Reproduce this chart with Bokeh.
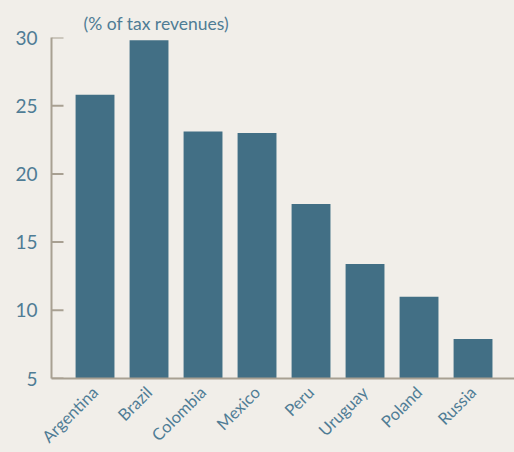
from bokeh.plotting import figure
from bokeh.models import Range1d, FixedTicker
from bokeh.embed import file_html
from bokeh.resources import INLINE
import math

countries = ["Argentina", "Brazil", "Colombia", "Mexico", "Peru", "Uruguay", "Poland", "Russia"]
values = [25.8, 29.8, 23.1, 23.0, 17.8, 13.4, 11.0, 7.9]
y_ticks = [5, 10, 15, 20, 25, 30]
title_text = "(% of tax revenues)"

BG = "#f1eee9"
BAR = "#426f85"
TXT = "#4f7c95"
AX = "#a8a092"
FONT = "Lato"

xs = list(range(len(countries)))
X0, X1 = -0.806, 7.768

p = figure(frame_width=463, frame_height=341, output_backend="svg", toolbar_location=None,
           x_range=Range1d(X0, X1), y_range=Range1d(5, 30),
           min_border_left=51, min_border_right=0, min_border_top=37, min_border_bottom=74)
p.background_fill_color = BG
p.border_fill_color = BG
p.outline_line_color = None
p.xgrid.visible = False
p.ygrid.visible = False

p.title.text = title_text
p.title.text_font = FONT
p.title.text_font_size = "17.5px"
p.title.text_font_style = "normal"
p.title.text_color = TXT
p.title.align = "left"
p.title.offset = 32
p.title.standoff = 7

p.vbar(x=xs, top=values, bottom=5, width=0.72, color=BAR, line_color=None)

# inward tick marks on the y axis
p.segment(x0=[X0] * len(y_ticks), y0=y_ticks, x1=[X0 + 12 / 54] * len(y_ticks), y1=y_ticks,
          line_color=AX, line_width=2)

p.xaxis.ticker = FixedTicker(ticks=xs)
p.xaxis.major_label_overrides = {i: c for i, c in enumerate(countries)}
p.xaxis.major_label_orientation = math.pi / 4
p.xaxis.major_tick_line_color = None
p.xaxis.minor_tick_line_color = None
p.xaxis.axis_line_color = AX
p.xaxis.axis_line_width = 2
p.xaxis.major_label_text_color = TXT
p.xaxis.major_label_text_font = FONT
p.xaxis.major_label_text_font_size = "16.5px"
p.xaxis.major_label_standoff = 5

p.yaxis.ticker = FixedTicker(ticks=y_ticks)
p.yaxis.major_tick_in = 0
p.yaxis.major_tick_out = 0
p.yaxis.major_tick_line_color = None
p.yaxis.minor_tick_line_color = None
p.yaxis.axis_line_color = AX
p.yaxis.axis_line_width = 2
p.yaxis.major_label_text_color = TXT
p.yaxis.major_label_text_font = FONT
p.yaxis.major_label_text_font_size = "19px"
p.yaxis.major_label_standoff = 14

template = """{% block preamble %}<style>html,body{background:#f1eee9;overflow:hidden;}</style>{% endblock %}"""

open("out.html", "w").write(file_html(p, INLINE, template=template))
